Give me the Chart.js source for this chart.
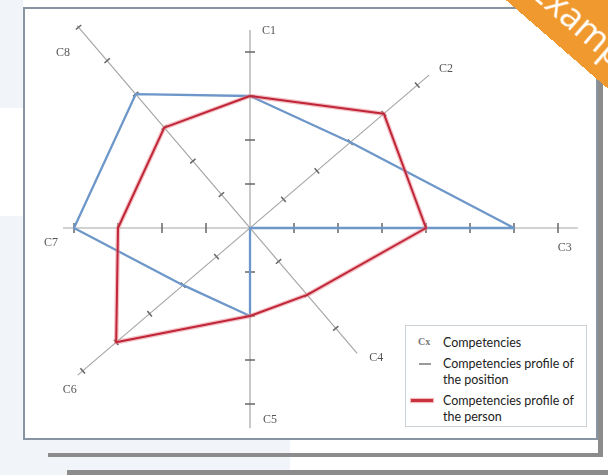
<!DOCTYPE html>
<html>
<head>
<meta charset="utf-8">
<script src="https://cdn.jsdelivr.net/npm/chart.js@4.4.1/dist/chart.umd.min.js"></script>
<style>
  html, body { margin: 0; padding: 0; }
  body { width: 608px; height: 475px; position: relative; overflow: hidden; background: #fff; font-family: Lato, "Noto Sans", sans-serif; }
  .patch { position: absolute; background: #f1f5f9; }
  .frame { position: absolute; left: 23px; top: 7px; width: 571px; height: 429px; border: 2px solid #8795a2; background: #fff; }
  .shadowR { position: absolute; left: 598px; top: 12px; width: 5px; height: 445px; background: #8c8c8c; }
  .barA { position: absolute; left: 48px; top: 453px; width: 555px; height: 4px; background: #8c8c8c; }
  .barB { position: absolute; left: 67px; top: 470px; width: 541px; height: 5px; background: #8c8c8c; }
  #wrap { position: absolute; left: 25px; top: 9px; }
  .legend { position: absolute; left: 405px; top: 325px; width: 180px; height: 100px; border: 1px solid #c9d1d9; background: #fff; font-size: 12.5px; color: #222; }
  .row { position: absolute; left: 37px; line-height: 15.5px; }
  .ico { position: absolute; }
  .ribbon { position: absolute; left: 429.5px; top: -140.6px; width: 420px; height: 75px; background: #f0992f; color: #fff;
            transform-origin: 0 100%; transform: rotate(41deg); font-family: "Open Sans", sans-serif; font-size: 36px;
            line-height: 86px; padding-left: 113px; box-sizing: border-box; white-space: nowrap; }
</style>
</head>
<body>
<div class="patch" style="left:0;top:0;width:23px;height:108px"></div>
<div class="patch" style="left:0;top:216px;width:23px;height:259px"></div>
<div class="patch" style="left:0;top:440px;width:290px;height:35px"></div>
<div class="shadowR"></div>
<div class="barA"></div>
<div class="barB"></div>
<div class="frame"></div>
<div id="wrap"><canvas id="grafico" width="570" height="429"></canvas></div>
<div class="legend">
  <div class="ico" style="left:12px;top:10px;font:bold 10px 'Liberation Serif';color:#777">Cx</div>
  <div class="row" style="top:9px">Competencies</div>
  <div class="ico" style="left:13px;top:37px;width:12px;height:1.5px;background:#9a9a9a"></div>
  <div class="row" style="top:30px">Competencies profile of<br>the position</div>
  <div class="ico" style="left:5px;top:73px;width:22px;height:3px;background:#c8323c;box-shadow:0 0 1px 1px rgba(235,140,150,0.6)"></div>
  <div class="row" style="top:67px">Competencies profile of<br>the person</div>
</div>
<div class="ribbon">Example</div>

<script>
  // Dati: competenze, profili e assi
  var competencies = ['C1', 'C2', 'C3', 'C4', 'C5', 'C6', 'C7', 'C8'];
  var positionProfile = [3, 3, 6, 0, 2, 2, 4, 4];
  var personProfile = [3, 4, 4, 2, 2, 4, 3, 3];
  var axisTicks = [4, 5, 7, 3, 4, 5, 4, 6];
  var axisLength = [4.5, 5.35, 7.45, 3.75, 4.55, 5.15, 4.25, 6.05];

  // Geometria del disegno (angoli degli assi in gradi, scala in pixel)
  var axisAngle = [90, 40.5, 0, -49.5, -90, -139.5, 180, 130.5];
  var labelOffset = [[19, 1], [17, -6], [-13, 20], [19, 4], [20, -8], [-8, 15], [-12, 15], [-14, 27]];
  var UNIT = 44, CX = 225, CY = 219, W = 570, H = 429;

  function punto(i, v) {
    var a = axisAngle[i] * Math.PI / 180;
    return { x: v * Math.cos(a), y: v * Math.sin(a) };
  }

  function poligono(valori) {
    var pts = valori.map(function (v, i) { return punto(i, v); });
    pts.push(pts[0]);
    return pts;
  }

  // Assi: linee da un capo all'altro
  var datasets = [];
  for (var i = 0; i < 4; i++) {
    datasets.push({
      data: [punto(i, axisLength[i]), punto(i + 4, axisLength[i + 4])],
      showLine: true, borderColor: '#a6a6a6', borderWidth: 1.2, pointRadius: 0, order: 6
    });
  }

  // Tacche sugli assi
  var tacche = [], rotazioni = [], raggi = [];
  competencies.forEach(function (c, i) {
    for (var k = 1; k <= axisTicks[i]; k++) {
      tacche.push(punto(i, k));
      rotazioni.push(90 - axisAngle[i]);
      raggi.push(axisAngle[i] % 90 === 0 ? 5 : 3.5);
    }
  });
  datasets.push({
    data: tacche, showLine: false, pointStyle: 'line', pointRadius: raggi, pointRotation: rotazioni,
    pointBorderColor: '#666', pointBorderWidth: 1.5, order: 5
  });

  // Profili
  datasets.push({
    data: poligono(positionProfile), showLine: true, borderColor: '#6e97c9', borderWidth: 2.3,
    pointRadius: 0, order: 3, borderJoinStyle: 'round'
  });
  datasets.push({
    data: poligono(personProfile), showLine: true, borderColor: 'rgba(232,130,140,0.5)', borderWidth: 4.5,
    pointRadius: 0, order: 2, borderJoinStyle: 'round'
  });
  datasets.push({
    data: poligono(personProfile), showLine: true, borderColor: '#c02638', borderWidth: 2,
    pointRadius: 0, order: 1, borderJoinStyle: 'round'
  });

  // Etichette degli assi
  var etichette = {
    id: 'etichette',
    afterDatasetsDraw: function (chart) {
      var ctx = chart.ctx, sx = chart.scales.x, sy = chart.scales.y;
      ctx.save();
      ctx.font = '12px "Liberation Serif"';
      ctx.fillStyle = '#555';
      ctx.textAlign = 'center';
      ctx.textBaseline = 'middle';
      competencies.forEach(function (c, i) {
        var p = punto(i, axisLength[i]);
        ctx.fillText(c, sx.getPixelForValue(p.x) + labelOffset[i][0], sy.getPixelForValue(p.y) + labelOffset[i][1]);
      });
      ctx.restore();
    }
  };

  var grafico = new Chart(document.getElementById('grafico').getContext('2d'), {
    type: 'scatter',
    data: { datasets: datasets },
    options: {
      responsive: false,
      animation: false,
      events: [],
      layout: { autoPadding: false, padding: 0 },
      plugins: { legend: { display: false }, tooltip: { enabled: false } },
      scales: {
        x: { type: 'linear', display: false, min: -CX / UNIT, max: (W - CX) / UNIT },
        y: { type: 'linear', display: false, min: -(H - CY) / UNIT, max: CY / UNIT }
      }
    },
    plugins: [etichette]
  });
</script>
</body>
</html>
